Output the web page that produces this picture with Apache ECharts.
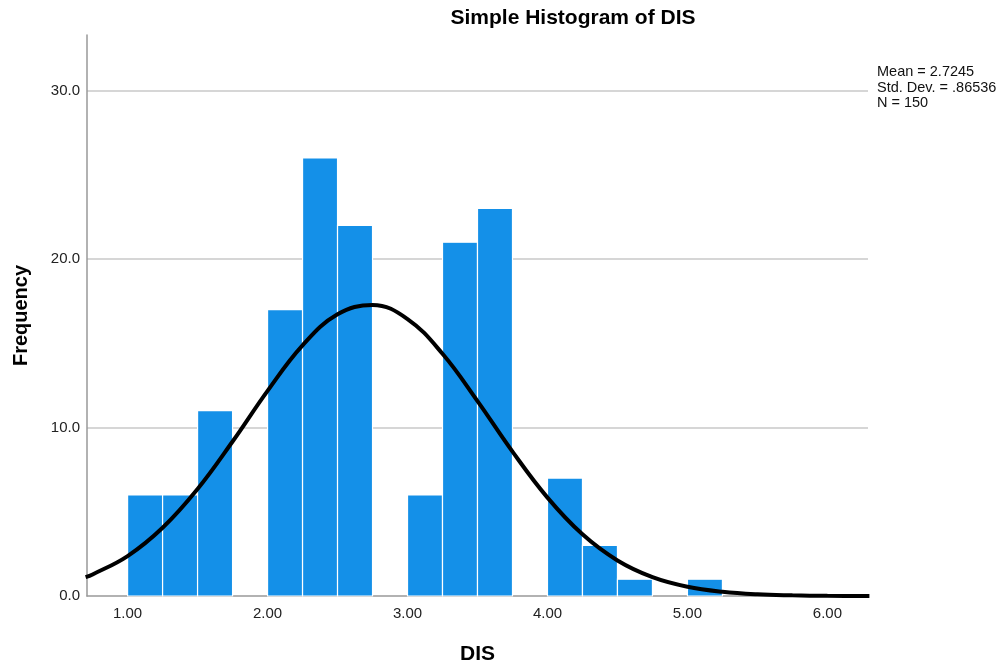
<!DOCTYPE html>
<html>
<head>
<meta charset="utf-8">
<script src="https://cdn.jsdelivr.net/npm/echarts@6/dist/echarts.min.js"></script>
<style>html,body{margin:0;padding:0;background:#fff}#c{width:1007px;height:670px}</style>
</head>
<body>
<div id="c"></div>
<script>
// Histogram bins (lower edge, upper edge) and frequencies
var binStarts = [1.00, 1.25, 1.50, 1.75, 2.00, 2.25, 2.50, 2.75, 3.00, 3.25, 3.50, 3.75, 4.00, 4.25, 4.50, 4.75, 5.00];
var binWidth = 0.25;
var frequencies = [6, 6, 11, 0, 17, 26, 22, 0, 6, 21, 23, 0, 7, 3, 1, 0, 1];
// Normal curve
var curveX = [0.70, 0.75, 1.00, 1.25, 1.50, 1.75, 2.00, 2.25, 2.50, 2.75, 3.00, 3.25, 3.50, 3.75, 4.00, 4.25, 4.50, 4.75, 5.00, 5.25, 5.50, 5.75, 6.00, 6.25, 6.30];
var curveY = [1.12, 1.28, 2.37, 4.05, 6.35, 9.17, 12.18, 14.88, 16.72, 17.28, 16.44, 14.38, 11.57, 8.57, 5.84, 3.66, 2.11, 1.12, 0.55, 0.25, 0.10, 0.04, 0.01, 0.004, 0.003];
var xTicks = [1, 2, 3, 4, 5, 6];
var yTicks = [0, 10, 20, 30];
var gridValues = [10, 20, 30];
var statsLines = ['Mean = 2.7245', 'Std. Dev. = .86536', 'N = 150'];

var barData = binStarts.map(function (s, i) { return [s, s + binWidth, frequencies[i]]; });
var curveData = curveX.map(function (x, i) { return [x, curveY[i]]; });

var FONT = 'Liberation Sans, Arial, sans-serif';
var chart = echarts.init(document.getElementById('c'), null, { renderer: 'canvas' });
chart.setOption({
  backgroundColor: '#fff',
  animation: false,
  grid: { left: 87, right: 139, top: 35, bottom: 72.5, containLabel: false },
  xAxis: {
    type: 'value', min: 0.71, max: 6.29,
    name: 'DIS', nameLocation: 'middle', nameGap: 48,
    nameTextStyle: { fontFamily: FONT, fontSize: 21, fontWeight: 'bold', color: '#000' },
    axisLine: { show: true, lineStyle: { color: '#999', width: 1.5 } },
    axisTick: { show: false },
    splitLine: { show: false },
    axisLabel: { customValues: xTicks, margin: 10, fontFamily: FONT, fontSize: 15, color: '#222',
      formatter: function (v) { return v.toFixed(2); } }
  },
  yAxis: {
    type: 'value', min: 0, max: 33.3,
    name: 'Frequency', nameLocation: 'middle', nameGap: 56, nameRotate: 90,
    nameTextStyle: { fontFamily: FONT, fontSize: 20, fontWeight: 'bold', color: '#000' },
    axisLine: { show: true, lineStyle: { color: '#999', width: 1.5 } },
    axisTick: { show: false, customValues: yTicks },
    splitLine: { show: false },
    axisLabel: { customValues: yTicks, margin: 7, fontFamily: FONT, fontSize: 15, color: '#222',
      formatter: function (v) { return v.toFixed(1); } }
  },
  graphic: [
    { type: 'text', x: 573, y: 18, style: { text: 'Simple Histogram of DIS', fontFamily: FONT, fontSize: 21, fontWeight: 'bold', fill: '#000', align: 'center', verticalAlign: 'middle' } },
    { type: 'text', x: 877, y: 72, style: { text: statsLines[0], fontFamily: FONT, fontSize: 14.5, fill: '#111', align: 'left', verticalAlign: 'middle' } },
    { type: 'text', x: 877, y: 88, style: { text: statsLines[1], fontFamily: FONT, fontSize: 14.5, fill: '#111', align: 'left', verticalAlign: 'middle' } },
    { type: 'text', x: 877, y: 103, style: { text: statsLines[2], fontFamily: FONT, fontSize: 14.5, fill: '#111', align: 'left', verticalAlign: 'middle' } }
  ],
  series: [
    {
      type: 'line', data: [], z: 1, silent: true,
      markLine: {
        z: 0, silent: true, symbol: ['none', 'none'], label: { show: false }, animation: false,
        lineStyle: { color: '#c8c8c8', width: 1.5, type: 'solid' },
        emphasis: { disabled: true },
        data: gridValues.map(function (v) { return { yAxis: v }; })
      }
    },
    {
      type: 'custom', z: 2, silent: true,
      renderItem: function (params, api) {
        var h = api.value(2);
        if (!h) return null;
        var p0 = api.coord([api.value(0), 0]);
        var p1 = api.coord([api.value(1), h]);
        return {
          type: 'rect',
          shape: { x: p0[0], y: p1[1], width: p1[0] - p0[0], height: p0[1] - p1[1] },
          style: { fill: '#1490e8', stroke: '#ffffff', lineWidth: 1.2 }
        };
      },
      encode: { x: [0, 1], y: 2 },
      data: barData
    },
    {
      type: 'line', z: 3, data: curveData, smooth: 0.4, showSymbol: false, silent: true,
      lineStyle: { color: '#000', width: 4 }, clip: true
    }
  ]
});
</script>
</body>
</html>
